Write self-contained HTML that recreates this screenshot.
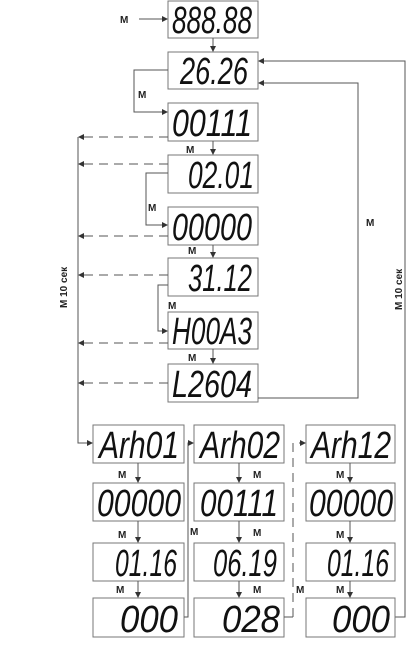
<!DOCTYPE html>
<html><head><meta charset="utf-8"><style>
html,body{margin:0;padding:0;background:#fff;}
svg{display:block}
.b{fill:#fff;stroke:#777;stroke-width:1}
.l{stroke:#555;stroke-width:1;fill:none}
.d{stroke:#555;stroke-width:1;fill:none;stroke-dasharray:9,6}
.t{font-family:"Liberation Sans",sans-serif;font-size:38px;fill:#111;font-style:italic;text-anchor:start}
.m{font-family:"Liberation Sans",sans-serif;font-size:10px;font-weight:bold;fill:#222}
</style></head><body>
<svg width="417" height="648" viewBox="0 0 417 648">
<defs><marker id="a" markerWidth="6" markerHeight="6" refX="5" refY="3" orient="auto"><path d="M0,0L6,3L0,6z" fill="#333"/></marker></defs>
<g>
<rect class="b" x="168" y="1" width="90" height="37"/><text class="t" x="172" y="33" textLength="80" lengthAdjust="spacingAndGlyphs">888.88</text>
<rect class="b" x="168" y="52" width="90" height="37"/><text class="t" x="180" y="84" textLength="68" lengthAdjust="spacingAndGlyphs">26.26</text>
<rect class="b" x="168" y="103" width="90" height="38"/><text class="t" x="172" y="136" textLength="80" lengthAdjust="spacingAndGlyphs">00111</text>
<rect class="b" x="168" y="155" width="90" height="38"/><text class="t" x="188" y="188" textLength="66" lengthAdjust="spacingAndGlyphs">02.01</text>
<rect class="b" x="168" y="207" width="90" height="38"/><text class="t" x="172" y="240" textLength="80" lengthAdjust="spacingAndGlyphs">00000</text>
<rect class="b" x="168" y="258" width="90" height="38"/><text class="t" x="188" y="291" textLength="64" lengthAdjust="spacingAndGlyphs">31.12</text>
<rect class="b" x="168" y="312" width="90" height="37"/><text class="t" x="172" y="344" textLength="80" lengthAdjust="spacingAndGlyphs">H00A3</text>
<rect class="b" x="168" y="364" width="90" height="38"/><text class="t" x="172" y="397" textLength="80" lengthAdjust="spacingAndGlyphs">L2604</text>
</g>
<g>
<text class="m" x="120" y="23">M</text><line class="l" x1="139" y1="19" x2="167" y2="19" marker-end="url(#a)"/>
<line class="l" x1="213" y1="38" x2="213" y2="51" marker-end="url(#a)"/>
<polyline class="l" points="168,70 134,70 134,112 167,112" marker-end="url(#a)"/><text class="m" x="138" y="98">M</text>
<line class="l" x1="213" y1="141" x2="213" y2="154" marker-end="url(#a)"/><text class="m" x="186" y="153">M</text>
<polyline class="l" points="168,173 146,173 146,225 167,225" marker-end="url(#a)"/><text class="m" x="148" y="211">M</text>
<line class="l" x1="213" y1="245" x2="213" y2="257" marker-end="url(#a)"/><text class="m" x="188" y="254">M</text>
<polyline class="l" points="168,285 158,285 158,331 167,331" marker-end="url(#a)"/><text class="m" x="168" y="309">M</text>
<line class="l" x1="213" y1="349" x2="213" y2="363" marker-end="url(#a)"/><text class="m" x="188" y="361">M</text>
<polyline class="l" points="258,398 358,398 358,83 259,83" marker-end="url(#a)"/><text class="m" x="366" y="226">M</text>
<polyline class="l" points="395,617 405,617 405,61 259,61" marker-end="url(#a)"/>
<text class="m" transform="translate(402,310) rotate(-90)">M 10 сек</text>
<text class="m" transform="translate(67,308) rotate(-90)">M 10 сек</text>
<polyline class="l" points="78,137 78,443 92,443" marker-end="url(#a)"/>
<line class="d" x1="168" y1="137" x2="79" y2="137" marker-end="url(#a)"/>
<line class="d" x1="168" y1="164" x2="79" y2="164" marker-end="url(#a)"/>
<line class="d" x1="168" y1="236" x2="79" y2="236" marker-end="url(#a)"/>
<line class="d" x1="168" y1="275" x2="79" y2="275" marker-end="url(#a)"/>
<line class="d" x1="168" y1="343" x2="79" y2="343" marker-end="url(#a)"/>
<line class="d" x1="168" y1="383" x2="79" y2="383" marker-end="url(#a)"/>
</g>
<g>
<rect class="b" x="93" y="425" width="91" height="38"/><text class="t" x="99" y="458" textLength="80" lengthAdjust="spacingAndGlyphs">Arh01</text>
<rect class="b" x="93" y="483" width="91" height="38"/><text class="t" x="97" y="516" textLength="84" lengthAdjust="spacingAndGlyphs">00000</text>
<rect class="b" x="93" y="543" width="91" height="38"/><text class="t" x="115" y="576" textLength="62" lengthAdjust="spacingAndGlyphs">01.16</text>
<rect class="b" x="93" y="598" width="91" height="39"/><text class="t" x="120" y="632" textLength="58" lengthAdjust="spacingAndGlyphs">000</text>
<rect class="b" x="194" y="425" width="90" height="38"/><text class="t" x="200" y="458" textLength="80" lengthAdjust="spacingAndGlyphs">Arh02</text>
<rect class="b" x="194" y="483" width="90" height="38"/><text class="t" x="200" y="516" textLength="78" lengthAdjust="spacingAndGlyphs">00111</text>
<rect class="b" x="194" y="543" width="90" height="38"/><text class="t" x="213" y="576" textLength="64" lengthAdjust="spacingAndGlyphs">06.19</text>
<rect class="b" x="194" y="598" width="90" height="39"/><text class="t" x="222" y="632" textLength="58" lengthAdjust="spacingAndGlyphs">028</text>
<rect class="b" x="306" y="425" width="89" height="38"/><text class="t" x="311" y="458" textLength="80" lengthAdjust="spacingAndGlyphs">Arh12</text>
<rect class="b" x="306" y="483" width="89" height="38"/><text class="t" x="309" y="516" textLength="84" lengthAdjust="spacingAndGlyphs">00000</text>
<rect class="b" x="306" y="543" width="89" height="38"/><text class="t" x="327" y="576" textLength="62" lengthAdjust="spacingAndGlyphs">01.16</text>
<rect class="b" x="306" y="598" width="89" height="39"/><text class="t" x="332" y="632" textLength="58" lengthAdjust="spacingAndGlyphs">000</text>
</g>
<g>
<line class="l" x1="138" y1="463" x2="138" y2="482" marker-end="url(#a)"/><text class="m" x="118" y="478">M</text>
<line class="l" x1="138" y1="521" x2="138" y2="542" marker-end="url(#a)"/><text class="m" x="118" y="538">M</text>
<line class="l" x1="138" y1="581" x2="138" y2="597" marker-end="url(#a)"/><text class="m" x="116" y="593">M</text>
<line class="l" x1="239" y1="463" x2="239" y2="482" marker-end="url(#a)"/><text class="m" x="253" y="478">M</text>
<line class="l" x1="239" y1="521" x2="239" y2="542" marker-end="url(#a)"/><text class="m" x="253" y="536">M</text>
<line class="l" x1="239" y1="581" x2="239" y2="597" marker-end="url(#a)"/><text class="m" x="253" y="593">M</text>
<line class="l" x1="350" y1="463" x2="350" y2="482" marker-end="url(#a)"/><text class="m" x="336" y="478">M</text>
<line class="l" x1="350" y1="521" x2="350" y2="542" marker-end="url(#a)"/><text class="m" x="336" y="538">M</text>
<line class="l" x1="350" y1="581" x2="350" y2="597" marker-end="url(#a)"/><text class="m" x="336" y="593">M</text>
<polyline class="l" points="184,617 188,617 188,443 193,443" marker-end="url(#a)"/><text class="m" x="190" y="535">M</text>
<polyline class="l" points="284,617 293,617"/><polyline class="d" points="293,617 293,443 305,443" marker-end="url(#a)"/><text class="m" x="296" y="593">M</text>
</g>
</svg>
</body></html>
